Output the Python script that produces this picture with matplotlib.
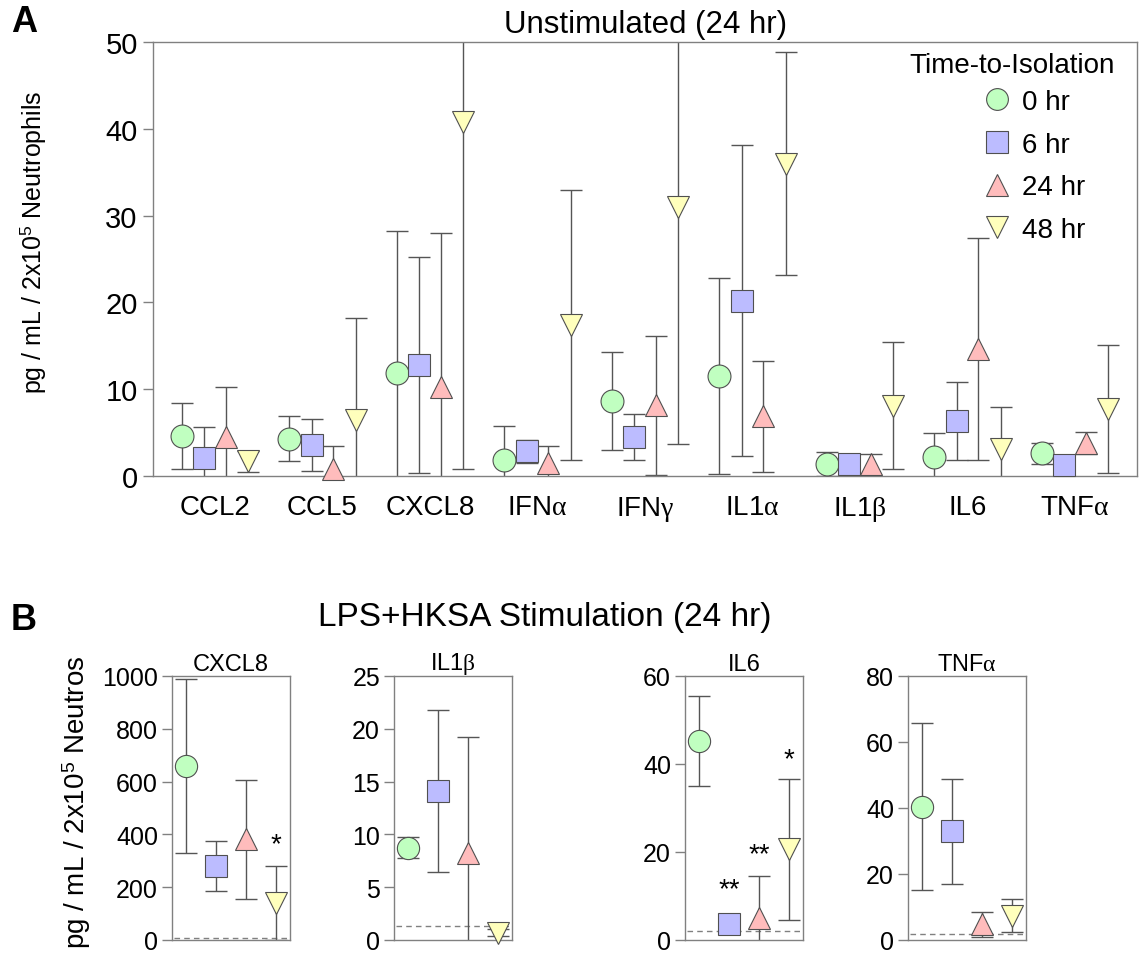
import numpy as np
import matplotlib
matplotlib.use('Agg')
import matplotlib.pyplot as plt

plt.rcParams['font.family'] = ['Liberation Sans', 'DejaVu Sans']
plt.rcParams['mathtext.fontset'] = 'custom'
plt.rcParams['mathtext.rm'] = 'Liberation Sans'
plt.rcParams['mathtext.it'] = 'Liberation Serif'

# ---- Panel A data: unstimulated (24 hr), mean and SD per time-to-isolation
cytokines_a = ['CCL2', 'CCL5', 'CXCL8', r'IFN$\alpha$', r'IFN$\gamma$', r'IL1$\alpha$',
               r'IL1$\beta$', 'IL6', r'TNF$\alpha$']
times = ['0 hr', '6 hr', '24 hr', '48 hr']

mean_0hr = [4.6, 4.3, 11.9, 1.9, 8.65, 11.5, 1.4, 2.2, 2.6]
sd_0hr = [3.8, 2.6, 16.3, 3.9, 5.65, 11.3, 1.4, 2.8, 1.25]
mean_6hr = [2.1, 3.6, 12.8, 2.85, 4.5, 20.2, 1.35, 6.35, 1.3]
sd_6hr = [3.6, 3.0, 12.4, 1.3, 2.6, 17.9, 1.2, 4.5, 0.9]
mean_24hr = [4.5, 0.8, 10.2, 1.5, 8.15, 6.9, 1.35, 14.6, 3.8]
sd_24hr = [5.7, 2.7, 17.8, 2.0, 8.0, 6.4, 1.2, 12.8, 1.3]
mean_48hr = [1.7, 6.5, 40.8, 17.4, 31.0, 36.0, 8.1, 3.1, 7.7]
sd_48hr = [1.2, 11.7, 40.0, 15.5, 27.3, 12.8, 7.3, 4.9, 7.4]

# ---- Panel B data: LPS+HKSA stimulation (24 hr)
cytokines_b = ['CXCL8', r'IL1$\beta$', 'IL6', r'TNF$\alpha$']
cxcl8_mean = [659, 280, 381, 141]
cxcl8_sd = [328, 94, 226, 140]
il1b_mean = [8.75, 14.1, 8.27, 0.7]
il1b_sd = [1.0, 7.7, 11.0, 0.3]
il6_mean = [45.2, 3.7, 5.1, 20.6]
il6_sd = [10.2, 0.5, 9.5, 16.0]
tnfa_mean = [40.4, 32.9, 4.75, 7.3]
tnfa_sd = [25.3, 15.8, 3.75, 5.0]
detection_limit = [9, 1.3, 2.0, 1.7]
ymax_b = [1000, 25, 60, 80]
ystep_b = [200, 5, 20, 20]
stars_cxcl8 = ['', '', '', '*']
stars_il6 = ['', '**', '**', '*']
star_y_cxcl8 = [0, 0, 0, 388]
star_y_il6 = [0, 13.0, 21.0, 42.7]

markers = ['o', 's', '^', 'v']
colors = ['#C0FFC0', '#BCBCFF', '#FFBCBC', '#FFFFBC']
edge = '#505050'
spine_col = '#808080'
offsets = [-0.31, -0.10, 0.10, 0.31]

W, H = 1143, 954
fig = plt.figure(figsize=(W / 100, H / 100), dpi=100)

def fx(px):
    return px / W

def fy(py):
    return 1 - py / H

# ================= Panel A =================
ax = fig.add_axes([fx(153), fy(477), fx(1137 - 153), (477 - 43) / H])
means_a = [mean_0hr, mean_6hr, mean_24hr, mean_48hr]
sds_a = [sd_0hr, sd_6hr, sd_24hr, sd_48hr]
xa = np.arange(len(cytokines_a))
handles = []
for i in range(4):
    x = xa + offsets[i]
    ax.errorbar(x, means_a[i], yerr=sds_a[i], fmt='none', ecolor='#555555',
                elinewidth=1.0, capsize=8, capthick=1.0, zorder=2)
    h, = ax.plot(x, means_a[i], markers[i], ms=16.5, mfc=colors[i], mec=edge,
                 mew=0.8, ls='none', clip_on=False, zorder=3, label=times[i])
    handles.append(h)

ax.set_xlim(-0.577, 8.577)
ax.set_ylim(0, 50)
ax.set_yticks([0, 10, 20, 30, 40, 50])
ax.set_xticks(xa)
ax.set_xticklabels(cytokines_a, fontsize=20)
ax.tick_params(axis='x', length=0, pad=13)
ax.tick_params(axis='y', labelsize=21, length=7, width=1, color=spine_col, pad=4)
for s in ax.spines.values():
    s.set_color(spine_col)
    s.set_linewidth(1.0)

# legend title placed on its own, entries indented below it
fig.text(fx(1012), fy(66), 'Time-to-Isolation', fontsize=20, ha='center', va='center')
leg = ax.legend(handles=handles, loc='upper left', bbox_to_anchor=(fx(983), fy(90)),
                bbox_transform=fig.transFigure, frameon=False, fontsize=20,
                handletextpad=0.4, handlelength=1.0, labelspacing=0.6,
                borderaxespad=0, borderpad=0, markerscale=0.95)

fig.text(fx(646), fy(25), 'Unstimulated (24 hr)', fontsize=22.5, ha='center', va='center')
fig.text(fx(33), fy(242), 'pg / mL / 2x10$^5$ Neutrophils', fontsize=18,
         rotation=90, ha='center', va='center')
fig.text(fx(11), fy(22), 'A', fontsize=26, fontweight='bold', ha='left', va='center')

# ================= Panel B =================
means_b = [cxcl8_mean, il1b_mean, il6_mean, tnfa_mean]
sds_b = [cxcl8_sd, il1b_sd, il6_sd, tnfa_sd]
stars_b = [stars_cxcl8, None, stars_il6, None]
stars_y = [star_y_cxcl8, None, star_y_il6, None]
lefts_b = [172, 394, 685, 908]
xb = np.arange(4)
for j, name in enumerate(cytokines_b):
    axb = fig.add_axes([fx(lefts_b[j]), fy(941), 118 / W, (941 - 677) / H])
    axb.axhline(detection_limit[j], xmin=0.02, xmax=0.98, color='#808080',
                lw=1.0, ls=(0, (4, 3)), zorder=1)
    for i in range(4):
        axb.errorbar(xb[i], means_b[j][i], yerr=sds_b[j][i], fmt='none',
                     ecolor='#555555', elinewidth=1.0, capsize=8, capthick=1.0, zorder=2)
        axb.plot(xb[i], means_b[j][i], markers[i], ms=16, mfc=colors[i], mec=edge,
                 mew=0.8, ls='none', clip_on=False, zorder=3)
    if stars_b[j] is not None:
        for i, st in enumerate(stars_b[j]):
            if st:
                axb.annotate(st, (xb[i], stars_y[j][i]), xytext=(0, -10),
                             textcoords='offset points', ha='center', va='baseline',
                             fontsize=20, annotation_clip=False)
    axb.set_xlim(-0.47, 3.47)
    axb.set_ylim(0, ymax_b[j])
    axb.set_yticks(np.arange(0, ymax_b[j] + 1, ystep_b[j]))
    axb.set_xticks([])
    axb.tick_params(axis='y', labelsize=18, length=7, width=1, color=spine_col, pad=3)
    for s in axb.spines.values():
        s.set_color(spine_col)
        s.set_linewidth(1.0)
    axb.set_title(name, fontsize=17, pad=4)

fig.text(fx(545), fy(618), 'LPS+HKSA Stimulation (24 hr)', fontsize=24,
         ha='center', va='center')
fig.text(fx(11), fy(620), 'B', fontsize=26, fontweight='bold', ha='left', va='center')
fig.text(fx(77), fy(802), 'pg / mL / 2x10$^5$ Neutros', fontsize=20,
         rotation=90, ha='center', va='center')

fig.savefig('out.png', dpi=100)
